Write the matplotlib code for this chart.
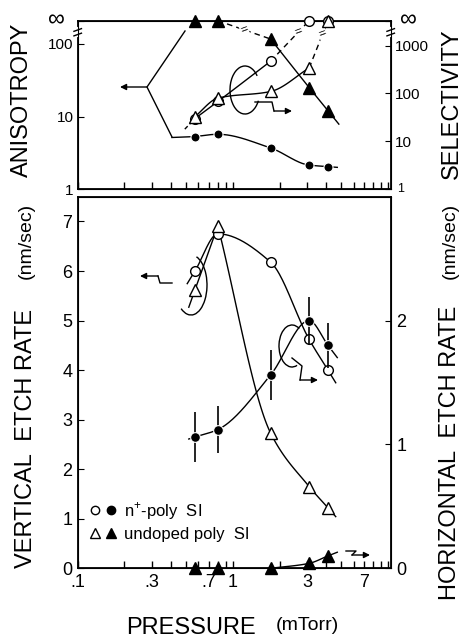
import numpy as np
import matplotlib.pyplot as plt
from matplotlib.patches import Arc
from matplotlib.lines import Line2D
from matplotlib.legend_handler import HandlerTuple

plt.rcParams['font.family'] = ['Liberation Sans', 'DejaVu Sans']
plt.rcParams['mathtext.fontset'] = 'custom'
plt.rcParams['mathtext.rm'] = 'Liberation Sans'

# data (inf = off scale, drawn on the "infinity" line)
pressure = [0.57, 0.8, 1.75, 3.1, 4.1]

aniso_doped = [5.3, 5.7, 3.7, 2.15, 2.05]
aniso_undoped = [np.inf, np.inf, 116, 25, 12]
select_doped = [30, 68, 470, np.inf, np.inf]
select_undoped = [33, 80, 110, 340, np.inf]

vert_doped = [6.0, 6.75, 6.18, 4.62, 4.0]
vert_undoped = [5.62, 6.91, 2.73, 1.65, 1.22]
horiz_doped = [1.06, 1.12, 1.56, 2.0, 1.8]
horiz_doped_err = [0.2, 0.19, 0.2, 0.19, 0.18]
horiz_undoped = [0.0, 0.0, 0.0, 0.04, 0.1]

x_ticks = [0.1, 0.3, 0.7, 1, 3, 7]
x_labels = ['.1', '.3', '.7', '1', '3', '7']

TOP_L = 207     # anisotropy axis top (= infinity)
TOP_R = 3300    # selectivity axis top (= infinity)


def fin(vals, top):
    return [top if np.isinf(v) else v for v in vals]


def smooth(x, y, logy=False, ext=(0.0, 0.0), n=40):
    # monotone cubic (pchip) through the points in log-x, short straight run-out at the ends
    lx = np.log10(np.asarray(x, float))
    y = np.asarray(y, float)
    ly = np.log10(y) if logy else y
    h = np.diff(lx)
    d = np.diff(ly) / h
    m = np.zeros(len(lx))
    m[0], m[-1] = d[0], d[-1]
    for k in range(1, len(lx) - 1):
        if d[k - 1] * d[k] > 0:
            w1, w2 = 2 * h[k] + h[k - 1], h[k] + 2 * h[k - 1]
            m[k] = (w1 + w2) / (w1 / d[k - 1] + w2 / d[k])
    xs, ys = [], []
    for k in range(len(h)):
        t = np.linspace(0, 1, n)
        h00 = 2 * t ** 3 - 3 * t ** 2 + 1
        h10 = t ** 3 - 2 * t ** 2 + t
        h01 = -2 * t ** 3 + 3 * t ** 2
        h11 = t ** 3 - t ** 2
        xs.append(lx[k] + t * h[k])
        ys.append(h00 * ly[k] + h10 * h[k] * m[k] + h01 * ly[k + 1] + h11 * h[k] * m[k + 1])
    xs = np.concatenate(xs)
    ys = np.concatenate(ys)
    if ext[0] > 0:
        xs = np.r_[lx[0] - ext[0], xs]
        ys = np.r_[ly[0] - ext[0] * m[0], ys]
    if ext[1] > 0:
        xs = np.r_[xs, lx[-1] + ext[1]]
        ys = np.r_[ys, ly[-1] + ext[1] * m[-1]]
    if logy:
        ys = 10 ** ys
    return 10 ** xs, ys


fig = plt.figure(figsize=(4.62, 6.4), dpi=100)
W, H = 462, 640
ax_t = fig.add_axes([77.7 / W, 1 - 189.3 / H, 313 / W, 168.6 / H])
ax_b = fig.add_axes([77.7 / W, 1 - 568.3 / H, 313 / W, 371.6 / H])
ax_t2 = ax_t.twinx()
ax_b2 = ax_b.twinx()

all_ticks = [0.1 * i for i in range(1, 10)] + list(range(1, 11))

for ax in (ax_t, ax_b):
    ax.set_xscale('log')
    ax.set_xlim(0.1, 10.4)
    ax.xaxis.set_major_locator(plt.FixedLocator(all_ticks))
    ax.xaxis.set_minor_locator(plt.NullLocator())
    ax.tick_params(axis='x', direction='in', length=5, width=1)
    for sp in ax.spines.values():
        sp.set_linewidth(1.3)

labels_full = []
for t in all_ticks:
    lab = ''
    for xt, xl in zip(x_ticks, x_labels):
        if abs(t - xt) < 1e-6:
            lab = xl
    labels_full.append(lab)
ax_t.set_xticklabels([''] * len(all_ticks))
ax_b.set_xticklabels(labels_full, fontsize=13)
ax_b.tick_params(axis='x', pad=4)

# ---------------- top panel ----------------
ax_t.set_yscale('log')
ax_t.set_ylim(1, TOP_L)
ax_t2.set_yscale('log')
ax_t2.set_ylim(1, TOP_R)
ax_t.set_yticks([1, 10, 100, TOP_L])
ax_t.set_yticklabels(['1', '10', '100', ''], fontsize=11)
ax_t.yaxis.set_minor_locator(plt.NullLocator())
ax_t2.set_yticks([1, 10, 100, 1000, TOP_R])
ax_t2.set_yticklabels(['', '10', '100', '1000', ''], fontsize=11)
ax_t2.yaxis.set_minor_locator(plt.NullLocator())
ax_t.tick_params(axis='y', direction='in', length=4, pad=3)
ax_t2.tick_params(axis='y', direction='in', length=4, pad=3)
ax_t.text(-0.04, 1.0, '∞', transform=ax_t.transAxes, ha='right', va='center', fontsize=17)
ax_t2.text(1.03, 1.0, '∞', transform=ax_t2.transAxes, ha='left', va='center', fontsize=17)
ax_t2.text(1.02, 0.0, '1', transform=ax_t2.transAxes, ha='left', va='center', fontsize=9)

# axis breaks near the infinity line
for xa in (0.0, 1.0):
    ax_t.plot([xa, xa], [0.915, 0.95], color='white', lw=3, transform=ax_t.transAxes, clip_on=False, zorder=5)
    for yy in (0.918, 0.945):
        ax_t.plot([xa - 0.012, xa + 0.012], [yy - 0.008, yy + 0.008], color='black', lw=1,
                  transform=ax_t.transAxes, clip_on=False, zorder=6)

aL = fin(aniso_undoped, TOP_L)
sD = fin(select_doped, TOP_R)
sU = fin(select_undoped, TOP_R)

# anisotropy, n+ poly
xs, ys = smooth(pressure, aniso_doped, logy=True, ext=(0.0, 0.06))
ax_t.plot(xs, ys, 'k-', lw=1)
ax_t.plot([0.405, pressure[0]], [5.15, aniso_doped[0]], 'k-', lw=1)
ax_t.plot(pressure, aniso_doped, 'o', ms=6.5, mfc='black', mec='white', mew=0.8, color='black')

# anisotropy, undoped
ax_t.plot(pressure[1:3], aL[1:3], 'k--', lw=1, dashes=(4, 3))
xs, ys = smooth(pressure[2:], aL[2:], logy=True, ext=(0.0, 0.07))
ax_t.plot(xs, ys, 'k-', lw=1)
ax_t.plot(pressure, aL, '^', ms=8, color='black', mec='black', clip_on=False, zorder=7)

# selectivity, n+ poly
xs, ys = smooth(pressure[:3], sD[:3], logy=True)
ax_t2.plot(xs, ys, 'k-', lw=1)
ax_t2.plot([0.49, pressure[0]], [18, sD[0]], 'k--', lw=1, dashes=(3, 2))
ax_t2.plot(pressure[2:4], sD[2:4], 'k--', lw=1, dashes=(4, 3))
ax_t2.plot(pressure, sD, 'o', ms=7, mfc='white', mec='black', mew=1, clip_on=False, zorder=7)

# selectivity, undoped
xs, ys = smooth(pressure[:4], sU[:4], logy=True)
ax_t2.plot(xs, ys, 'k-', lw=1)
ax_t2.plot(pressure[3:5], sU[3:5], 'k--', lw=1, dashes=(4, 3))
ax_t2.plot(pressure, sU, '^', ms=8, mfc='white', mec='black', mew=1, clip_on=False, zorder=7)

# break marks on the dashed runs
for ax, xa, xb, ya, yb in ((ax_t, pressure[1], pressure[2], aL[1], aL[2]),
                           (ax_t2, pressure[2], pressure[3], sD[2], sD[3]),
                           (ax_t2, pressure[3], pressure[4], sU[3], sU[4])):
    f = 0.5 if ax is ax_t else 0.72
    xm = 10 ** ((1 - f) * np.log10(xa) + f * np.log10(xb))
    ym = 10 ** ((1 - f) * np.log10(ya) + f * np.log10(yb))
    ax.text(xm, ym, '=', ha='center', va='center', fontsize=9, rotation=20,
            bbox=dict(boxstyle='square,pad=0.05', fc='white', ec='none'), zorder=6)


def fp(x, y):
    return (x / W, 1 - y / H)


def fig_line(pts, **kw):
    xs_, ys_ = zip(*[fp(*p) for p in pts])
    fig.add_artist(Line2D(xs_, ys_, transform=fig.transFigure, color='black', lw=1, **kw))


def fig_arrow(p_from, p_to):
    fig.add_artist(plt.Annotation('', xy=fp(*p_to), xytext=fp(*p_from), xycoords='figure fraction',
                                  textcoords='figure fraction',
                                  arrowprops=dict(arrowstyle='-|>', color='black', lw=1,
                                                  mutation_scale=9, shrinkA=0, shrinkB=0)))


# bracket pointing to the anisotropy axis
fig_line([(185, 31), (147, 87), (172, 137)])
fig_arrow((147, 87), (120, 87))
# loop + wavy arrow pointing to the selectivity axis
fig.add_artist(Arc(fp(245, 90), 30 / W, 48 / H, theta1=40, theta2=330,
                   transform=fig.transFigure, color='black', lw=1))
fig_line([(255, 102), (272, 102), (274, 111)])
fig_arrow((274, 111), (292, 111))

# ---------------- bottom panel ----------------
ax_b.set_ylim(0, 7.5)
ax_b2.set_ylim(0, 3)
ax_b.set_yticks(range(0, 8))
ax_b.set_yticklabels([str(i) for i in range(0, 8)], fontsize=13)
ax_b2.set_yticks([0, 1, 2])
ax_b2.set_yticklabels(['0', '1', '2'], fontsize=13)
ax_b.tick_params(axis='y', direction='in', length=4, pad=4)
ax_b2.tick_params(axis='y', direction='in', length=4, pad=4)

# vertical etch rate
xs, ys = smooth(pressure, vert_doped, ext=(0.05, 0.05))
ax_b.plot(xs, ys, 'k-', lw=1)
# undoped: sharp peak at 0.8, smooth fall-off after it
xs, ys = smooth(pressure[:2], vert_undoped[:2], ext=(0.04, 0.0))
ax_b.plot(xs, ys, 'k-', lw=1)
xs, ys = smooth(pressure[1:], vert_undoped[1:], ext=(0.0, 0.05))
ax_b.plot(xs, ys, 'k-', lw=1)
ax_b.plot(pressure, vert_doped, 'o', ms=7, mfc='white', mec='black', mew=1, zorder=6)
ax_b.plot(pressure, vert_undoped, '^', ms=8, mfc='white', mec='black', mew=1, zorder=6)

# horizontal etch rate
xs, ys = smooth(pressure, horiz_doped, ext=(0.04, 0.06))
ax_b2.plot(xs, ys, 'k-', lw=1)
ax_b2.errorbar(pressure, horiz_doped, yerr=horiz_doped_err, fmt='o', ms=7, color='black',
               mfc='black', mec='white', mew=0.8, elinewidth=1.2, capsize=0, zorder=6)
xs, ys = smooth(pressure[2:], horiz_undoped[2:], ext=(0.0, 0.06))
ax_b2.plot(xs, ys, 'k-', lw=1)
ax_b2.plot(pressure, horiz_undoped, '^', ms=8, color='black', clip_on=False, zorder=7)

# loops and wavy arrows
fig.add_artist(Arc(fp(191, 285), 32 / W, 60 / H, theta1=-120, theta2=75,
                   transform=fig.transFigure, color='black', lw=1))
fig_line([(172, 283), (160, 283), (158, 276)])
fig_arrow((158, 276), (140, 276))
fig.add_artist(Arc(fp(292, 346), 26 / W, 42 / H, theta1=60, theta2=290,
                   transform=fig.transFigure, color='black', lw=1))
fig_line([(292, 358), (302, 366), (300, 380)])
fig_arrow((300, 380), (318, 380))
fig_line([(346, 551), (356, 551), (352, 555)])
fig_arrow((352, 555), (370, 555))

# legend
h_doped = (Line2D([], [], ls='', marker='o', ms=6, mfc='white', mec='black'),
           Line2D([], [], ls='', marker='o', ms=6, mfc='black', mec='black'))
h_undoped = (Line2D([], [], ls='', marker='^', ms=7, mfc='white', mec='black'),
             Line2D([], [], ls='', marker='^', ms=7, mfc='black', mec='black'))
ax_b.legend([h_doped, h_undoped], ['n$^{+}$-poly  SI', 'undoped poly  SI'],
            handler_map={tuple: HandlerTuple(ndivide=None, pad=0.3)},
            loc='lower left', bbox_to_anchor=(0.0, 0.04), frameon=False, fontsize=12,
            handlelength=1.6, handletextpad=0.5, labelspacing=0.3, borderaxespad=0.3)

# axis titles
fig.text(*fp(22, 100), 'ANISOTROPY', rotation=90, ha='center', va='center', fontsize=17)
fig.text(*fp(452, 104), 'SELECTIVITY', rotation=90, ha='center', va='center', fontsize=17)
fig.text(*fp(26, 438), 'VERTICAL  ETCH RATE', rotation=90, ha='center', va='center', fontsize=17)
fig.text(*fp(26, 241), '(nm/sec)', rotation=90, ha='center', va='center', fontsize=14)
fig.text(*fp(450, 453), 'HORIZONTAL  ETCH RATE', rotation=90, ha='center', va='center', fontsize=17)
fig.text(*fp(450, 241), '(nm/sec)', rotation=90, ha='center', va='center', fontsize=14)
fig.text(*fp(191, 628), 'PRESSURE', ha='center', va='center', fontsize=17)
fig.text(*fp(307, 626), '(mTorr)', ha='center', va='center', fontsize=14)

plt.savefig('out.png', dpi=100)
